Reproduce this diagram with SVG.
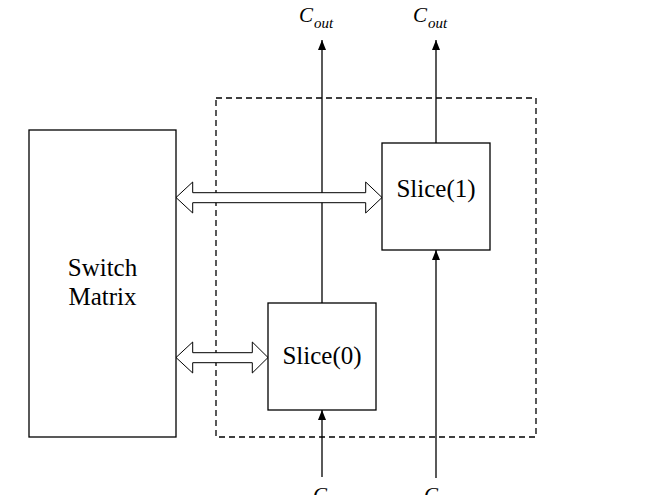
<svg xmlns="http://www.w3.org/2000/svg" width="656" height="495" viewBox="0 0 656 495">
<defs>
<style>
.box{fill:#fff;stroke:#000;stroke-width:1.3}
.ln{fill:none;stroke:#000;stroke-width:1.3}
.dash{fill:none;stroke:#000;stroke-width:1.3;stroke-dasharray:6,4}
.dbl{fill:#fff;stroke:#000;stroke-width:1}
.t{font-family:"Liberation Serif",serif;font-size:25px;fill:#000;text-anchor:middle}
.c{font-family:"Liberation Serif",serif;font-style:italic;fill:#000}
</style>
<marker id="ah" viewBox="0 0 10 10" refX="10" refY="5" markerWidth="10" markerHeight="10" markerUnits="userSpaceOnUse" orient="auto">
<path d="M0,1 L10,5 L0,9 Z" fill="#000"/>
</marker>
</defs>
<rect width="656" height="495" fill="#fff"/>
<rect class="dash" x="216" y="98" width="320" height="339"/>
<g id="connectors">
<line class="ln" x1="322" y1="303" x2="322" y2="40" marker-end="url(#ah)"/>
<line class="ln" x1="436" y1="143" x2="436" y2="40" marker-end="url(#ah)"/>
<line class="ln" x1="322" y1="477" x2="322" y2="410" marker-end="url(#ah)"/>
<line class="ln" x1="436" y1="478" x2="436" y2="250" marker-end="url(#ah)"/>
<polygon class="dbl" points="176,197.5 192.7,182 192.7,192.7 365.7,192.7 365.7,182 382,197.5 365.7,213 365.7,202.7 192.7,202.7 192.7,213"/>
<polygon class="dbl" points="176,357.5 192.7,342 192.7,352.7 252.3,352.7 252.3,342 268,357.5 252.3,373 252.3,362.7 192.7,362.7 192.7,373"/>
</g>
<g id="switch">
<rect class="box" x="29" y="130" width="147" height="307"/>
<text class="t" x="102.5" y="276">Switch</text>
<text class="t" x="102.5" y="305">Matrix</text>
</g>
<g id="slice1">
<rect class="box" x="382" y="143" width="108" height="107"/>
<text class="t" x="436" y="197">Slice(1)</text>
</g>
<g id="slice0">
<rect class="box" x="268" y="303" width="108" height="107"/>
<text class="t" x="322" y="364">Slice(0)</text>
</g>
<g id="labels">
<text class="c" x="299" y="22" font-size="21">C<tspan font-size="15" dy="6" dx="1">out</tspan></text>
<text class="c" x="413" y="22" font-size="21">C<tspan font-size="15" dy="6" dx="1">out</tspan></text>
<text class="c" x="313" y="502" font-size="21">C<tspan font-size="15" dy="6">in</tspan></text>
<text class="c" x="424" y="502" font-size="21">C<tspan font-size="15" dy="6">in</tspan></text>
</g>
</svg>
